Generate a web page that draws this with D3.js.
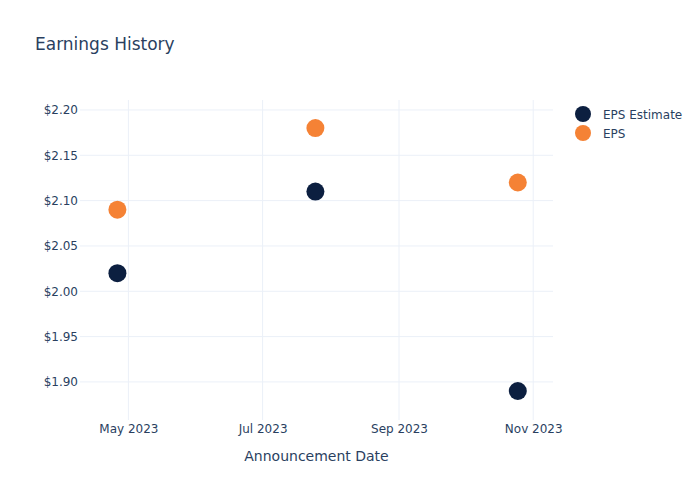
<!DOCTYPE html>
<html>
<head>
<meta charset="utf-8">
<title>Earnings History</title>
<script src="https://d3js.org/d3.v7.min.js"></script>
<style>
  body { margin: 0; background: #fff; }
  text { font-family: "DejaVu Sans", Verdana, sans-serif; fill: #2a3f5f; }
  .grid line { stroke: #ebf0f8; stroke-width: 1px; }
</style>
</head>
<body>
<svg width="700" height="500"></svg>
<script>
// data
var dates = ["2023-04-26", "2023-07-25", "2023-10-25"];
var epsEstimate = [2.02, 2.11, 1.89];
var eps = [2.09, 2.18, 2.12];
var yTicks = [1.90, 1.95, 2.00, 2.05, 2.10, 2.15, 2.20];
var xTicks = ["2023-05-01", "2023-07-01", "2023-09-01", "2023-11-01"];
var seriesNames = ["EPS Estimate", "EPS"];
var colors = ["#0c1f40", "#f58235"];

var parse = d3.timeParse("%Y-%m-%d");
var svg = d3.select("svg");
var plotLeft = 80, plotRight = 553, plotTop = 100, plotBottom = 420;

var x = d3.scaleTime()
  .domain([parse("2023-04-09"), parse("2023-11-10")])
  .range([plotLeft, plotRight]);
var y = d3.scaleLinear()
  .domain([1.858, 2.211])
  .range([plotBottom, plotTop]);

// grid
var grid = svg.append("g").attr("class", "grid");
grid.selectAll(".gy").data(yTicks).enter().append("line")
  .attr("x1", plotLeft).attr("x2", plotRight)
  .attr("y1", function (d) { return y(d); })
  .attr("y2", function (d) { return y(d); });
grid.selectAll(".gx").data(xTicks).enter().append("line")
  .attr("y1", plotTop).attr("y2", plotBottom)
  .attr("x1", function (d) { return x(parse(d)); })
  .attr("x2", function (d) { return x(parse(d)); });

// axes
var yAxis = svg.append("g")
  .attr("transform", "translate(" + plotLeft + ",0)")
  .call(d3.axisLeft(y).tickValues(yTicks).tickSize(0).tickPadding(2)
    .tickFormat(function (d) { return "$" + d3.format(".2f")(d); }));
yAxis.select(".domain").remove();
yAxis.selectAll("text").attr("font-size", 12).attr("fill", "#2a3f5f");

var xAxis = svg.append("g")
  .attr("transform", "translate(0," + plotBottom + ")")
  .call(d3.axisBottom(x).tickValues(xTicks.map(parse)).tickSize(0).tickPadding(4)
    .tickFormat(d3.timeFormat("%b %Y")));
xAxis.select(".domain").remove();
xAxis.selectAll("text").attr("font-size", 12).attr("fill", "#2a3f5f");

// points
var series = [epsEstimate, eps];
series.forEach(function (vals, i) {
  svg.append("g").selectAll("circle").data(vals).enter().append("circle")
    .attr("cx", function (d, j) { return x(parse(dates[j])); })
    .attr("cy", function (d) { return y(d); })
    .attr("r", 9)
    .attr("fill", colors[i]);
});

// title
svg.append("text").attr("x", 35).attr("y", 50)
  .attr("font-size", 17).text("Earnings History");

svg.append("text").attr("x", (plotLeft + plotRight) / 2).attr("y", 461)
  .attr("text-anchor", "middle").attr("font-size", 14)
  .text("Announcement Date");

// legend
var legend = svg.append("g").selectAll("g").data(seriesNames).enter().append("g")
  .attr("transform", function (d, i) { return "translate(583," + (114 + i * 19) + ")"; });
legend.append("circle").attr("r", 8)
  .attr("fill", function (d, i) { return colors[i]; });
legend.append("text").attr("x", 20).attr("y", 4.5)
  .attr("font-size", 12).text(function (d) { return d; });
</script>
</body>
</html>
